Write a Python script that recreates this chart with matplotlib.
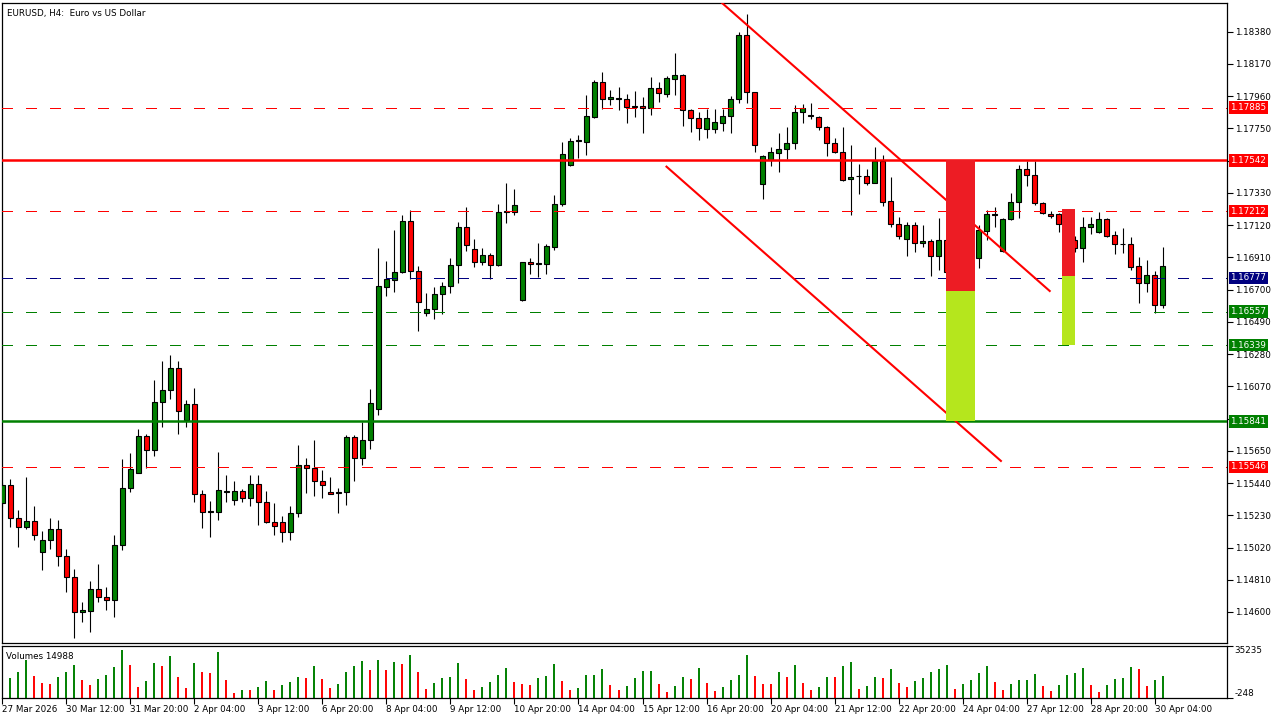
import numpy as np
import pandas as pd
import matplotlib
matplotlib.use("Agg")
import matplotlib.pyplot as plt
from matplotlib.patches import Rectangle

# EURUSD H4 candles
opens = [1.15310, 1.15427, 1.15212, 1.15154, 1.15193, 1.14991, 1.15069, 1.15141, 1.14965, 1.14828,
         1.14600, 1.14606, 1.14750, 1.14698, 1.14678, 1.15036, 1.15408, 1.15505, 1.15746, 1.15655,
         1.15968, 1.16046, 1.16189, 1.15851, 1.15955, 1.15369, 1.15251, 1.15251, 1.15382, 1.15330,
         1.15388, 1.15343, 1.15434, 1.15317, 1.15186, 1.15186, 1.15121, 1.15245, 1.15558, 1.15538,
         1.15453, 1.15382, 1.15375, 1.15382, 1.15740, 1.15603, 1.15720, 1.15922, 1.16717, 1.16763,
         1.16815, 1.17147, 1.16821, 1.16548, 1.16574, 1.16671, 1.16724, 1.16860, 1.17108, 1.16965,
         1.16880, 1.16925, 1.16860, 1.17206, 1.17206, 1.16632, 1.16880, 1.16867, 1.16867, 1.16978,
         1.17258, 1.17512, 1.17668, 1.17662, 1.17824, 1.18052, 1.17942, 1.17942, 1.17942, 1.17890,
         1.17896, 1.17883, 1.18013, 1.17974, 1.18072, 1.18098, 1.17870, 1.17818, 1.17746, 1.17746,
         1.17785, 1.17831, 1.17942, 1.18358, 1.17987, 1.17388, 1.17544, 1.17590, 1.17616, 1.17655,
         1.17857, 1.17837, 1.17824, 1.17759, 1.17655, 1.17596, 1.17421, 1.17440, 1.17440, 1.17394,
         1.17538, 1.17277, 1.17127, 1.17030, 1.17121, 1.17004, 1.17017, 1.16919, 1.17023, 1.16815,
         1.16854, 1.16802, 1.16906, 1.17082, 1.17186, 1.16952, 1.17160, 1.17271, 1.17486, 1.17447,
         1.17264, 1.17193, 1.17193, 1.17127, 1.17023, 1.16971, 1.17108, 1.17075, 1.17160, 1.17056,
         1.16997, 1.16997, 1.16854, 1.16743, 1.16795, 1.16600]
highs = [1.15447, 1.15466, 1.15264, 1.15479, 1.15290, 1.15128, 1.15212, 1.15199, 1.15010, 1.14880,
         1.14665, 1.14802, 1.14913, 1.14763, 1.15102, 1.15597, 1.15636, 1.15792, 1.15759, 1.16111,
         1.16235, 1.16274, 1.16235, 1.15981, 1.16059, 1.15395, 1.15323, 1.15642, 1.15492, 1.15453,
         1.15401, 1.15492, 1.15492, 1.15388, 1.15310, 1.15225, 1.15290, 1.15688, 1.15603, 1.15720,
         1.15525, 1.15479, 1.15408, 1.15753, 1.15753, 1.15838, 1.16053, 1.16971, 1.16886, 1.17088,
         1.17186, 1.17219, 1.16854, 1.16678, 1.16717, 1.16750, 1.16906, 1.17140, 1.17238, 1.17030,
         1.16971, 1.16939, 1.17258, 1.17394, 1.17355, 1.16880, 1.16906, 1.17004, 1.16997, 1.17316,
         1.17662, 1.17688, 1.17707, 1.17968, 1.18065, 1.18118, 1.18000, 1.18020, 1.17974, 1.17994,
         1.17955, 1.18085, 1.18052, 1.18091, 1.18241, 1.18105, 1.17877, 1.17857, 1.17877, 1.17877,
         1.17877, 1.17961, 1.18378, 1.18495, 1.17987, 1.17577, 1.17629, 1.17720, 1.17759, 1.17903,
         1.17909, 1.17916, 1.17831, 1.17766, 1.17688, 1.17759, 1.17642, 1.17518, 1.17486, 1.17629,
         1.17577, 1.17434, 1.17173, 1.17140, 1.17140, 1.17121, 1.17030, 1.17166, 1.17056, 1.16880,
         1.16906, 1.16925, 1.17121, 1.17219, 1.17238, 1.17166, 1.17329, 1.17512, 1.17538, 1.17538,
         1.17271, 1.17212, 1.17199, 1.17153, 1.17049, 1.17173, 1.17173, 1.17206, 1.17166, 1.17082,
         1.17101, 1.17043, 1.16912, 1.16893, 1.16821, 1.16978]
lows = [1.15284, 1.15154, 1.15023, 1.15141, 1.15069, 1.14874, 1.15010, 1.14900, 1.14730, 1.14431,
        1.14535, 1.14470, 1.14665, 1.14613, 1.14567, 1.15004, 1.15382, 1.15505, 1.15538, 1.15616,
        1.15805, 1.15987, 1.15759, 1.15805, 1.15317, 1.15147, 1.15089, 1.15199, 1.15317, 1.15297,
        1.15317, 1.15290, 1.15167, 1.15180, 1.15102, 1.15056, 1.15069, 1.15219, 1.15375, 1.15356,
        1.15343, 1.15369, 1.15245, 1.15297, 1.15453, 1.15558, 1.15662, 1.15883, 1.16658, 1.16684,
        1.16808, 1.16769, 1.16430, 1.16528, 1.16509, 1.16541, 1.16678, 1.16743, 1.16952, 1.16847,
        1.16860, 1.16769, 1.16854, 1.17134, 1.17186, 1.16626, 1.16802, 1.16782, 1.16802, 1.16958,
        1.17245, 1.17505, 1.17557, 1.17577, 1.17818, 1.17877, 1.17903, 1.17870, 1.17785, 1.17824,
        1.17720, 1.17837, 1.17922, 1.17955, 1.17968, 1.17766, 1.17727, 1.17675, 1.17688, 1.17720,
        1.17733, 1.17720, 1.17916, 1.17916, 1.17596, 1.17290, 1.17505, 1.17466, 1.17551, 1.17616,
        1.17785, 1.17811, 1.17740, 1.17570, 1.17590, 1.17408, 1.17186, 1.17323, 1.17381, 1.17394,
        1.17245, 1.17108, 1.17030, 1.16919, 1.16945, 1.16978, 1.16789, 1.16828, 1.16789, 1.16750,
        1.16763, 1.16776, 1.16841, 1.17023, 1.17108, 1.16945, 1.17153, 1.17166, 1.17375, 1.17251,
        1.17193, 1.17166, 1.17075, 1.16991, 1.16945, 1.16880, 1.17062, 1.17069, 1.17043, 1.16932,
        1.16939, 1.16828, 1.16613, 1.16684, 1.16548, 1.16580]
closes = [1.15427, 1.15212, 1.15154, 1.15193, 1.15102, 1.15069, 1.15141, 1.14965, 1.14828, 1.14600,
          1.14613, 1.14750, 1.14698, 1.14678, 1.15036, 1.15408, 1.15531, 1.15746, 1.15655, 1.15968,
          1.16046, 1.16189, 1.15909, 1.15955, 1.15369, 1.15251, 1.15258, 1.15395, 1.15388, 1.15388,
          1.15343, 1.15434, 1.15317, 1.15186, 1.15160, 1.15121, 1.15245, 1.15558, 1.15538, 1.15453,
          1.15427, 1.15369, 1.15382, 1.15740, 1.15603, 1.15720, 1.15961, 1.16724, 1.16769, 1.16815,
          1.17147, 1.16821, 1.16619, 1.16574, 1.16671, 1.16724, 1.16860, 1.17108, 1.16991, 1.16880,
          1.16925, 1.16860, 1.17206, 1.17212, 1.17251, 1.16880, 1.16867, 1.16873, 1.16984, 1.17258,
          1.17583, 1.17668, 1.17675, 1.17831, 1.18052, 1.17942, 1.17955, 1.17948, 1.17890, 1.17896,
          1.17883, 1.18013, 1.17981, 1.18078, 1.18098, 1.17870, 1.17818, 1.17753, 1.17818, 1.17792,
          1.17831, 1.17942, 1.18358, 1.17987, 1.17642, 1.17570, 1.17596, 1.17616, 1.17655, 1.17857,
          1.17883, 1.17831, 1.17759, 1.17655, 1.17596, 1.17414, 1.17434, 1.17438, 1.17394, 1.17538,
          1.17271, 1.17127, 1.17049, 1.17121, 1.17004, 1.17017, 1.16919, 1.17023, 1.16815, 1.16854,
          1.16802, 1.16906, 1.17088, 1.17193, 1.17193, 1.17160, 1.17271, 1.17486, 1.17447, 1.17264,
          1.17199, 1.17180, 1.17127, 1.17023, 1.16971, 1.17108, 1.17127, 1.17160, 1.17049, 1.16997,
          1.16995, 1.16847, 1.16743, 1.16795, 1.16600, 1.16854]
volumes = [10000, 13560, 17630, 25760, 14920, 10170, 9490, 14240, 17630, 22370,
           12200, 8810, 12880, 15590, 21020, 32540, 22370, 7460, 11530, 23730,
           21700, 28480, 14240, 6780, 23730, 17630, 16950, 31190, 12200, 3390,
           5420, 5300, 7460, 11530, 5420, 8810, 10850, 14240, 13560, 21700,
           12880, 6780, 9490, 17630, 21700, 25090, 18980, 25760, 18980, 24410,
           23050, 29150, 17630, 6100, 9940, 13560, 14240, 23730, 12880, 5420,
           7460, 10850, 15590, 20340, 10850, 9490, 8810, 13560, 14920, 23050,
           11530, 5420, 6780, 15590, 15700, 19660, 8810, 5420, 8140, 13560,
           18310, 18400, 9490, 4070, 8140, 14240, 12880, 20340, 10170, 4750,
           7460, 12200, 15590, 29150, 14920, 9490, 9400, 17630, 14240, 22370,
           10170, 5420, 7460, 14240, 14100, 21700, 24410, 6100, 8140, 14240,
           13560, 19660, 10170, 7460, 11530, 13560, 17630, 19660, 22370, 6100,
           9490, 12200, 16950, 21700, 10850, 5420, 9490, 12200, 12300, 16270,
           8140, 4750, 8810, 15590, 16950, 20340, 8810, 4070, 8810, 12880,
           13560, 21020, 19660, 8140, 12200, 14988]

# horizontal levels
levels = [1.17885, 1.17542, 1.17212, 1.16777, 1.16557, 1.16339, 1.15841, 1.15546]
level_colors = ['#ff0000', '#ff0000', '#ff0000', '#000080', '#008000', '#008000', '#008000', '#ff0000']
level_solid = [False, True, False, False, False, False, True, False]

price_ticks = [1.18380, 1.18170, 1.17960, 1.17750, 1.17540, 1.17330, 1.17120, 1.16910, 1.16700,
               1.16490, 1.16280, 1.16070, 1.15860, 1.15650, 1.15440, 1.15230, 1.15020, 1.14810, 1.14600]
hidden_ticks = [1.17540, 1.15860]  # covered by the level labels

# channel lines: (bar index, price) pairs
trend_upper = [(89.9, 1.18569), (130.9, 1.16691)]
trend_lower = [(83.0, 1.17501), (124.8, 1.15584)]

# zones: x0, x1 (bar index), top, middle, bottom
zones = [(117.9, 121.5, 1.17542, 1.16690, 1.15841),
         (132.4, 134.1, 1.17225, 1.16790, 1.16339)]

n = len(opens)
idx = np.arange(n)
times = pd.date_range('2026-03-27 04:00', periods=300, freq='4h')
times = times[times.weekday < 5][:n]

fig = plt.figure(figsize=(12.8, 7.2), dpi=100)
ax = fig.add_axes([2 / 1280, 1 - 643 / 720, 1225 / 1280, 640 / 720])
axv = fig.add_axes([2 / 1280, 1 - 698 / 720, 1225 / 1280, 52 / 720])

o = np.array(opens)
c = np.array(closes)
up = c >= o
body_col = np.where(up, '#008000', '#ff0000')

ax.vlines(idx, lows, highs, color='black', lw=0.8, zorder=2)
ax.bar(idx, np.abs(c - o), bottom=np.minimum(o, c), width=0.62, color=body_col,
       edgecolor='black', linewidth=0.8, zorder=3)

for lvl, col, solid in zip(levels, level_colors, level_solid):
    if solid:
        ax.axhline(lvl, color=col, lw=1.8, zorder=4)
    else:
        ax.axhline(lvl, color=col, lw=0.75, linestyle=(0, (10.5, 12.5)),
                   antialiased=False, zorder=4)
    ax.annotate(f"{lvl:.5f}", xy=(1, lvl), xycoords=('axes fraction', 'data'),
                xytext=(2.5, 0), textcoords='offset points', ha='left', va='center',
                color='white', fontsize=6.3, annotation_clip=False, zorder=10,
                bbox=dict(boxstyle='square,pad=0.2', fc=col, ec='none'))

for line in (trend_upper, trend_lower):
    xs, ys = zip(*line)
    ax.plot(xs, ys, color='#ff0000', lw=1.5, zorder=5)

for x0, x1, top, mid, bot in zones:
    ax.add_patch(Rectangle((x0, mid), x1 - x0, top - mid, fc='#ed1c24', ec='none', zorder=6))
    ax.add_patch(Rectangle((x0, bot), x1 - x0, mid - bot, fc='#b5e61d', ec='none', zorder=6))

ax.set_xlim(-0.06, 153.06)
ax.set_ylim(1.14398, 1.18567)
ax.set_xticks([])
ax.yaxis.tick_right()
ax.set_yticks(price_ticks)
ax.set_yticklabels(['' if v in hidden_ticks else f"{v:.5f}" for v in price_ticks])
ax.tick_params(axis='y', direction='out', length=4, width=0.8, labelsize=6.3, pad=1.5)
for s in ax.spines.values():
    s.set_linewidth(0.9)

ax.text(0.004, 0.991, "EURUSD, H4:  Euro vs US Dollar", transform=ax.transAxes,
        fontsize=6.3, ha='left', va='top')

# volumes panel
vol = np.array(volumes)
vcol = ['#008000' if i > 0 and vol[i] > vol[i - 1] else '#ff0000' for i in range(n)]
vcol[0] = '#008000'
axv.vlines(idx, 0, vol, colors=vcol, lw=1.4)
axv.set_xlim(-0.06, 153.06)
axv.set_ylim(-248, 35235)
axv.yaxis.tick_right()
axv.set_yticks([35235, -248])
axv.set_yticklabels(['35235', '-248'])
axv.tick_params(axis='y', direction='out', length=4, width=0.8, labelsize=6.3, pad=1.5)
ylabs = axv.get_yticklabels()
ylabs[0].set_va('top')
ylabs[1].set_va('bottom')
tick_pos = list(range(0, n, 8))
tick_lab = []
for k in tick_pos:
    t = times[k]
    if k == 0:
        tick_lab.append(f"{t.day} {t:%b %Y}")
    else:
        tick_lab.append(f"{t.day} {t:%b %H:%M}")
axv.set_xticks(tick_pos)
axv.set_xticklabels(tick_lab)
axv.tick_params(axis='x', direction='out', length=4, width=0.8, labelsize=6.3, pad=1)
for lbl in axv.get_xticklabels():
    lbl.set_ha('left')
for s in axv.spines.values():
    s.set_linewidth(0.9)
axv.text(0.003, 0.88, "Volumes 14988", transform=axv.transAxes, fontsize=6.3, ha='left', va='top')

fig.savefig('out.png', dpi=100, facecolor='white')
